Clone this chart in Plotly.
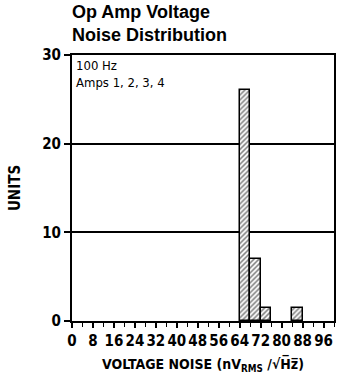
import plotly.graph_objects as go

# Data
bin_left = [64, 68, 72, 84]
bin_width = 4
units = [26, 7, 1.5, 1.5]
x_ticks = [0, 8, 16, 24, 32, 40, 48, 56, 64, 72, 80, 88, 96]
y_ticks = [0, 10, 20, 30]

centers = [b + bin_width / 2 for b in bin_left]

NARROW = "Liberation Sans Narrow, DejaVu Sans Condensed, Arial"

fig = go.Figure()
fig.add_trace(go.Bar(
    x=centers, y=units, width=[bin_width] * len(units),
    marker=dict(color="white", line=dict(color="black", width=1.5),
                pattern=dict(shape="/", fgcolor="black", bgcolor="white", size=3.5, solidity=0.45)),
    showlegend=False,
))

tickfont = dict(family=NARROW, size=15, color="black", weight="bold")

fig.update_layout(
    width=339, height=381,
    margin=dict(l=72, r=3, t=55, b=60),
    paper_bgcolor="white", plot_bgcolor="white",
    xaxis=dict(range=[0, 100], tickvals=x_ticks, ticktext=[str(v) for v in x_ticks],
               ticks="outside", ticklen=5, tickwidth=1.5, tickcolor="black",
               minor=dict(dtick=4, tick0=0, ticks="outside", ticklen=4, tickwidth=1.2, tickcolor="black"),
               showline=True, linecolor="black", linewidth=2, mirror=True,
               showgrid=False, zeroline=False, tickfont=tickfont,
               title=dict(text="VOLTAGE NOISE (nV<sub>RMS</sub> /√H̅z̅)", standoff=10,
                          font=dict(family=NARROW, size=14, color="black", weight="bold"))),
    yaxis=dict(range=[0, 30], tickvals=y_ticks,
               ticks="outside", ticklen=6, tickwidth=1.5, tickcolor="black",
               showline=True, linecolor="black", linewidth=2, mirror=True,
               showgrid=True, gridcolor="black", gridwidth=1.5, zeroline=False,
               tickfont=tickfont,
               title=dict(text="UNITS", standoff=18,
                          font=dict(family=NARROW, size=15, color="black", weight="bold"))),
    bargap=0,
)

# Title (two lines, above the plot)
fig.add_annotation(
    text="<b>Op Amp Voltage<br>Noise Distribution</b>", xref="paper", yref="paper",
    x=-0.008, y=1.208, xanchor="left", yanchor="top", align="left", showarrow=False,
    font=dict(family="Liberation Sans, Arial", size=18, color="black"),
)

fig.add_annotation(
    text="100 Hz<br>Amps 1, 2, 3, 4", xref="paper", yref="paper", x=0.008, y=0.998,
    xanchor="left", yanchor="top", align="left", showarrow=False,
    font=dict(family=NARROW, size=13, color="black"),
)

fig.write_html("out.html", config={"displayModeBar": False},
               post_script="document.body.style.margin='0';")
